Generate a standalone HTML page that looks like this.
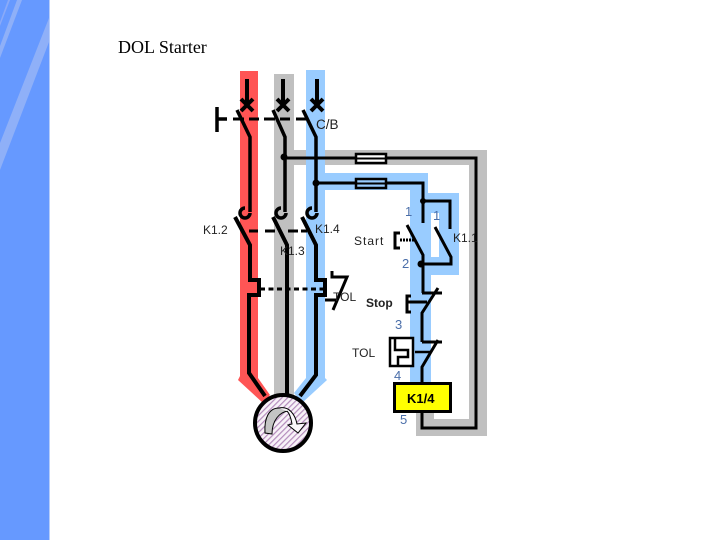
<!DOCTYPE html>
<html>
<head>
<meta charset="utf-8">
<style>
html,body{margin:0;padding:0;background:#fff}
svg{display:block}
text{font-family:"Liberation Sans",sans-serif;font-size:12px;fill:#222}
.n{fill:#4a6ea9;font-size:13px}
.b{font-weight:bold}
</style>
</head>
<body>
<svg width="720" height="540" viewBox="0 0 720 540" xmlns="http://www.w3.org/2000/svg">
<defs>
<pattern id="h" width="4" height="4" patternUnits="userSpaceOnUse" patternTransform="rotate(-45)">
<rect width="4" height="4" fill="#f8f2f8"/>
<rect width="4" height="1.2" fill="#b48cbc"/>
</pattern>
</defs>
<!-- left panel -->
<rect x="0" y="0" width="49" height="540" fill="#6699ff"/>
<rect x="49" y="0" width="1" height="540" fill="#b5ccfb"/>
<polygon points="49,18 49,42 0,170 0,143" fill="#8fb0f8"/>
<polygon points="17,0 22,0 0,58 0,46" fill="#8fb0f8"/>
<polygon points="8,0 10,0 0,26 0,22" fill="#8aaaf8"/>
<!-- bands -->
<path d="M240,71H258V378L270,395L263,403L238,380L240,376Z" fill="#ff5555"/>
<path d="M274,74H294V150H487V436H416V413H434V419H469V165H294V400H274Z" fill="#c0c0c0"/>
<path d="M306,70H325V173H428V193H459V275H431V382H410V190H325V378L327,380L302,403L294,393L306,378Z" fill="#99ccff"/>
<rect x="431" y="213" width="8" height="44" fill="#fff"/>
<g fill="none" stroke="#000" stroke-width="4">
<!-- breakers -->
<path d="M247,79V105M241,99L253,111M253,99L241,111"/>
<path d="M283,79V105M277,99L289,111M289,99L277,111"/>
<path d="M317,79V105M311,99L323,111M323,99L311,111"/>
<path d="M237,110L250,137V212" stroke-width="3.500"/>
<path d="M273,110L285,137V212" stroke-width="3.500"/>
<path d="M303,110L316,137V212" stroke-width="3.500"/>
<path d="M217,107V132M217,119H227" stroke-width="3.500"/>
<path d="M233,119H259M264,119H290M296,119H310" stroke-dasharray="11 5" stroke-width="3"/>
<!-- aux hooks -->
<path d="M250,213A5,5 0 1,1 245,208" stroke-width="3.500"/>
<path d="M286,213A5,5 0 1,1 281,208" stroke-width="3.500"/>
<path d="M317,213A5,5 0 1,1 312,208" stroke-width="3.500"/>
<!-- main contacts -->
<path d="M235,217L250,245V280H259V295H249V373L265,396"/>
<path d="M273,217L287,245V395"/>
<path d="M302,217L316,245V280H325V295H316V375L300,396"/>
<path d="M249,231H258M265,231H275M288,231H298M301,231H307" stroke-width="3"/>
<path d="M260,289H325" stroke-dasharray="5 3.500" stroke-width="3"/>
<!-- overload contact -->
<path d="M332,271V277H347L333,310M325,300H338" stroke-width="3"/>
<!-- control -->
<path d="M283,158H476V428H422V413" stroke-width="3"/>
<path d="M316,183H423V223M423,201H450V229" stroke-width="3"/>
<path d="M435,227L451,257V264H421" stroke-width="3"/>
<path d="M407,225L423,255V293M422,293H442M438,288L422,313V342M422,342H442M438,340L422,367V382" stroke-width="3"/>
<path d="M411,296H407V312H411M407,302H427" stroke-width="3"/>
<path d="M400,233H395V248H400" stroke-width="3"/>
<path d="M400,240H415" stroke-dasharray="2 1" stroke-width="3"/>
<path d="M415,352H430" stroke-width="2.500"/>
</g>
<circle cx="284" cy="157" r="3.500"/>
<circle cx="316" cy="183" r="3.500"/>
<circle cx="423" cy="201" r="3"/>
<circle cx="421" cy="264" r="3.500"/>
<!-- fuses -->
<rect x="356" y="154" width="30" height="9" fill="#fff" stroke="#000" stroke-width="2.500"/>
<rect x="356" y="179" width="30" height="9" fill="#99ccff" stroke="#000" stroke-width="2.500"/>
<path d="M356,158.500H386M356,183.500H386" stroke="#000" stroke-width="2"/>
<!-- TOL box -->
<rect x="390" y="338" width="23" height="28" fill="#fff" stroke="#000" stroke-width="2.500"/>
<path d="M395,338V350H408V357H398V366" fill="none" stroke="#000" stroke-width="2.500"/>
<!-- coil -->
<rect x="394.500" y="383.500" width="56" height="28" fill="#ffff00" stroke="#000" stroke-width="3"/>
<!-- motor -->
<circle cx="283" cy="423" r="28" fill="url(#h)" stroke="#000" stroke-width="4"/>
<path d="M265,433C264,418 269,408 279,408C283,408 286,409 288,411C280,412 272,420 272,434Z" fill="#c4c4c4" stroke="#000" stroke-width="1"/>
<path d="M279,408C289,406 295,414 297,424L306,423L298,433L288,425L292,424C291,418 289,413 287,411" fill="#fbf8fb" stroke="#000" stroke-width="1"/>
<!-- labels -->
<text x="118" y="53" style="font-family:'Liberation Serif',serif;font-size:18px;fill:#000">DOL Starter</text>
<text x="316" y="129" style="font-size:13.500px">C/B</text>
<text x="203" y="234">K1.2</text>
<text x="315" y="233">K1.4</text>
<text x="280" y="255">K1.3</text>
<text x="354" y="245" style="letter-spacing:1px">Start</text>
<text x="453" y="242">K1.1</text>
<text x="333" y="301">TOL</text>
<text x="366" y="307" class="b">Stop</text>
<text x="352" y="357">TOL</text>
<text x="407" y="403" class="b" style="fill:#000;font-size:13px">K1/4</text>
<text x="405" y="216" class="n">1</text>
<text x="433" y="220" class="n">1</text>
<text x="402" y="268" class="n">2</text>
<text x="395" y="329" class="n">3</text>
<text x="394" y="380" class="n">4</text>
<text x="400" y="424" class="n">5</text>
</svg>
</body>
</html>
